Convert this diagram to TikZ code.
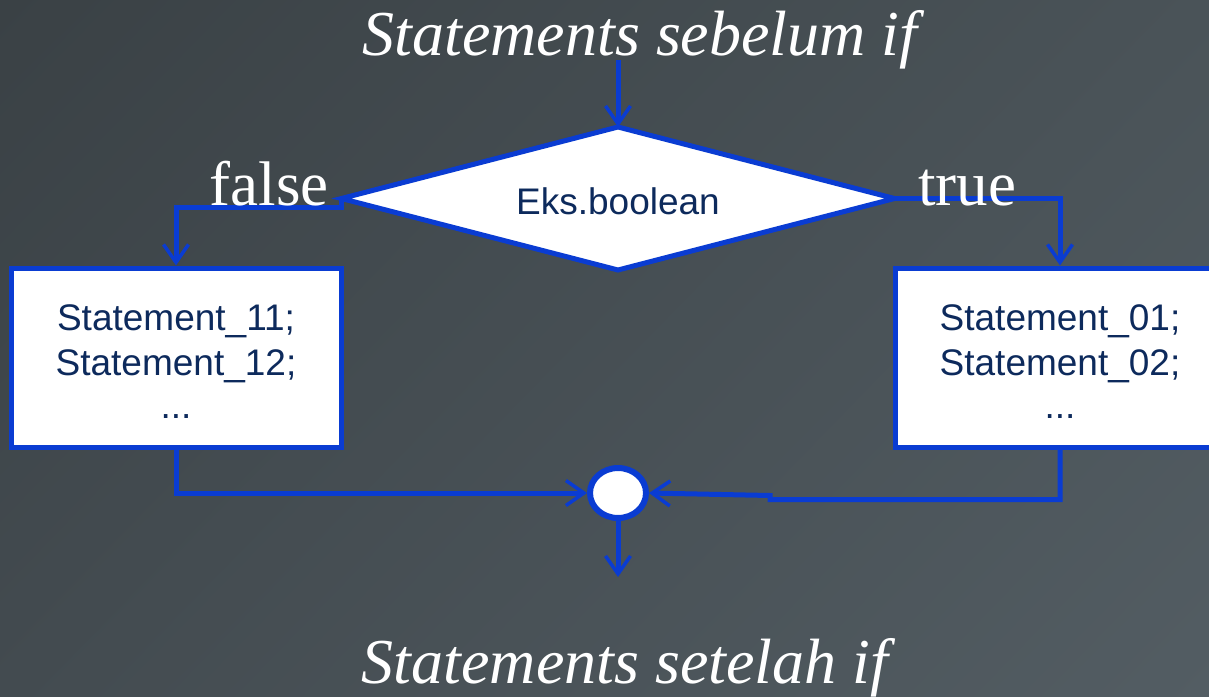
\documentclass[tikz,border=0pt]{standalone}
\usepackage{fontspec}
\setmainfont{Liberation Serif}
\setsansfont{Liberation Sans}
\usetikzlibrary{arrows.meta,shapes.geometric,shadings}
\definecolor{fblue}{HTML}{0A3CD2}
\definecolor{navy}{HTML}{0D2A5C}
\definecolor{bgA}{HTML}{3A4145}
\definecolor{bgB}{HTML}{4A5358}
\definecolor{bgC}{HTML}{434B50}
\definecolor{bgD}{HTML}{535D63}
\tikzset{
  flow/.style={draw=fblue, line width=5pt},
  arr/.style={flow, -{Straight Barb[length=18pt,width=25pt,line width=3.5pt]}},
  box/.style={draw=fblue, line width=5pt, fill=white, minimum width=330pt, minimum height=179pt, inner sep=0pt},
  btext/.style={text=navy, font=\sffamily\fontsize{37}{45}\selectfont, anchor=base, inner sep=0pt},
  title/.style={text=white, font=\itshape\fontsize{64}{70}\selectfont, anchor=base, inner sep=0pt},
  lab/.style={text=white, font=\fontsize{63}{66}\selectfont, anchor=base, inner sep=0pt},
}
\begin{document}
\begin{tikzpicture}[x=1pt,y=-1pt]
\useasboundingbox (0,0) rectangle (1209,696);
\shade[upper left=bgA, upper right=bgB, lower left=bgC, lower right=bgD] (0,0) rectangle (1209,696);

\node[title] (t1) at (640,55) {Statements sebelum if};
\node[title] (t2) at (625,683) {Statements setelah if};
\coordinate (top) at (618,60);

\node[draw=fblue, line width=5pt, fill=white, diamond, minimum width=553pt, minimum height=143pt, inner sep=0pt, outer sep=0pt] (dia) at (618,198.5) {};
\node[text=navy, font=\sffamily\fontsize{37}{45}\selectfont, anchor=base, inner sep=0pt] (cond) at (618,214) {Eks.boolean};

\node[box] (lb) at (176,357.5) {};
\node[box] (rb) at (1060,357.5) {};
\node[btext] (l1) at (176,330) {Statement\_11;};
\node[btext] (l2) at (176,375) {Statement\_12;};
\node[btext] (l3) at (176,418) {...};
\node[btext] (r1) at (1060,330) {Statement\_01;};
\node[btext] (r2) at (1060,375) {Statement\_02;};
\node[btext] (r3) at (1060,418) {...};

\node[draw=fblue, line width=6pt, fill=white, ellipse, minimum width=56pt, minimum height=50pt, inner sep=0pt] (cir) at (618,493) {};
\coordinate (out) at (618,577);

\draw[arr] (top) -- (dia.north);
\draw[arr] (dia.west) -- ++(0,9) -| (lb.north);
\draw[arr] (dia.east) -| (rb.north);
\draw[arr] (lb.south) |- (cir.west);
\draw[arr] (rb.south) -- ++(0,50) -- ++(-290,0) -- ++(0,-4) -- (cir.east);
\draw[arr] (cir.south) -- (out);

\node[lab] (lf) at (269,205) {false};
\node[lab] (lt) at (967,205) {true};
\end{tikzpicture}
\end{document}
